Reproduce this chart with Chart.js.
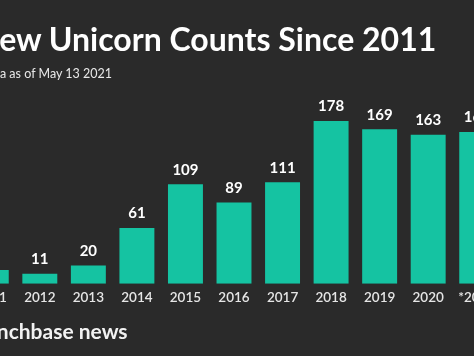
<!DOCTYPE html>
<html>
<head>
<meta charset="utf-8">
<script src="https://cdn.jsdelivr.net/npm/chart.js@4"></script>
<style>
  html, body { margin:0; padding:0; background:#2a2a2a; width:474px; height:356px; overflow:hidden; }
  #wrap { position:absolute; left:-60px; top:0; width:600px; height:356px; }
  .t { position:absolute; color:#ffffff; font-family:Lato, "Open Sans", sans-serif; white-space:nowrap; }
  #title { left:-25px; top:19px; font-size:32px; font-weight:700; }
  #sub { left:-20px; top:66px; font-size:12.5px; color:#e8e8e8; }
  #foot { left:-33px; top:318px; font-size:21px; font-weight:700; color:#f2f2f2; }
</style>
</head>
<body>
<div id="wrap"><canvas id="c" width="600" height="356"></canvas></div>
<div class="t" id="title">New Unicorn Counts Since 2011</div>
<div class="t" id="sub">Data as of May 13 2021</div>
<div class="t" id="foot">crunchbase news</div>
<script>
const categories = ["2011","2012","2013","2014","2015","2016","2017","2018","2019","2020","*2021"];
const unicornCounts = [15, 11, 20, 61, 109, 89, 111, 178, 169, 163, 166];

const valueLabels = {
  id: 'valueLabels',
  afterDatasetsDraw(chart) {
    const ctx = chart.ctx;
    const meta = chart.getDatasetMeta(0);
    ctx.save();
    ctx.fillStyle = '#ffffff';
    ctx.font = 'bold 15px Lato, "Open Sans", sans-serif';
    ctx.textAlign = 'center';
    ctx.textBaseline = 'bottom';
    meta.data.forEach((bar, i) => {
      ctx.fillText(String(unicornCounts[i]), bar.x, bar.y - 7);
    });
    ctx.restore();
  }
};

new Chart(document.getElementById('c'), {
  type: 'bar',
  data: {
    labels: categories,
    datasets: [{
      data: unicornCounts,
      backgroundColor: '#15c3a2',
      borderWidth: 0,
      barPercentage: 0.72,
      categoryPercentage: 1.0
    }]
  },
  options: {
    responsive: false,
    animation: false,
    devicePixelRatio: 1,
    layout: { padding: { left: 27, right: 39, top: 101, bottom: 44 } },
    plugins: { legend: { display: false }, tooltip: { enabled: false }, title: { display: false } },
    scales: {
      x: {
        grid: { display: false, drawTicks: false },
        border: { display: false },
        ticks: { color: '#e6e6e6', font: { family: 'Lato, "Open Sans", sans-serif', size: 13.5, weight: '600' }, padding: 6, maxRotation: 0, autoSkip: false }
      },
      y: { display: false, min: 0, max: 200 }
    }
  },
  plugins: [valueLabels]
});
</script>
</body>
</html>
